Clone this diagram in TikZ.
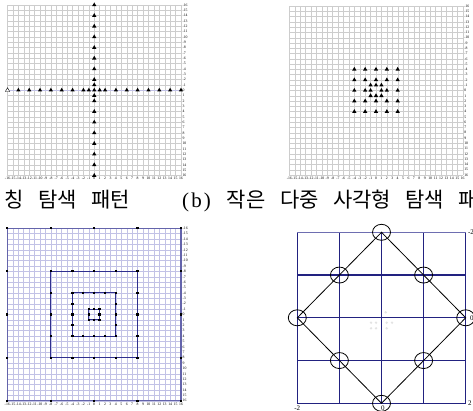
\documentclass[tikz,border=0pt]{standalone}
\usepackage{fontspec}
\setmainfont{Liberation Serif}
\newfontfamily\krfont{Noto Sans CJK KR}
\newfontfamily\capserif{Liberation Serif}[LetterSpace=10]
\usetikzlibrary{shapes.geometric}
\definecolor{gridgray}{HTML}{CDCDCD}
\definecolor{gridlav}{HTML}{C2C2E6}
\definecolor{navy}{HTML}{30308F}
\definecolor{dnavy}{HTML}{222280}
\newcommand\capfont{\fontsize{21}{24}\selectfont\krfont\spaceskip=14.5pt plus 0pt minus 0pt\relax}

\begin{document}
\begin{tikzpicture}[x=1pt,y=-1pt,
  gridline/.style={line width=0.35pt},
  tri/.style={regular polygon,regular polygon sides=3,fill=black,inner sep=0pt,minimum size=5pt},
  otri/.style={tri,fill=white,draw=black,line width=0.4pt},
  pt/.style={rectangle,fill=black,inner sep=0pt,minimum size=2.2pt},
  sqline/.style={draw=navy,line width=0.9pt},
  dline/.style={draw=dnavy,line width=0.8pt},
  ring/.style={ellipse,draw=black,line width=0.8pt,minimum width=18pt,minimum height=16pt,inner sep=0pt},
  tick/.style={font=\fontsize{3.8}{4}\selectfont,inner sep=0.3pt},
  dlabel/.style={font=\fontsize{7}{8}\selectfont,inner sep=0pt},
  captext/.style={font=\capfont,inner sep=0pt,anchor=base west}
]
\useasboundingbox[fill=white] (0,0) rectangle (473,411);

% (a)
\begin{scope}[shift={(94.25,90.25)},x=5.42pt,y=-5.33pt]
  \foreach \i in {-16,...,16} {
    \draw[gridline,gridgray] (\i,-16) -- (\i,16);
    \draw[gridline,gridgray] (-16,\i) -- (16,\i);
    \node[tick,anchor=west] (ay\i) at (16.2,\i) {\i};
    \node[tick,anchor=north] (ax\i) at (\i,16.25) {\i};
  }
  \draw[gridline,gridlav] (-16,0) -- (16,0);
  \node[otri] (ah-16) at (-16,0) {};
  \foreach \i in {-14,-12,-10,-8,-6,-4,-2,-1,0,1,2,4,6,8,10,12,14,16}
    \node[tri] (ah\i) at (\i,0) {};
  \foreach \i in {-16,-14,-12,-10,-8,-6,-4,-2,-1,1,2,4,6,8,10,12,14,16}
    \node[tri] (av\i) at (0,\i) {};
\end{scope}

% (b)
\begin{scope}[shift={(376,90.5)},x=5.42pt,y=-5.28pt]
  \foreach \i in {-16,...,16} {
    \draw[gridline,gridgray] (\i,-16) -- (\i,16);
    \draw[gridline,gridgray] (-16,\i) -- (16,\i);
    \node[tick,anchor=west] (by\i) at (16.2,\i) {\i};
    \node[tick,anchor=north] (bx\i) at (\i,16.25) {\i};
  }
  \foreach \y in {-4,-2,2,4}
    \foreach \x in {-4,-2,0,2,4}
      \node[tri] (b\x_\y) at (\x,\y) {};
  \foreach \x in {-4,-2,-1,1,2,4}
    \node[tri] (b\x_0) at (\x,0) {};
  \foreach \y in {-1,1}
    \foreach \x in {-1,0,1}
      \node[tri] (b\x_\y) at (\x,\y) {};
\end{scope}

% (c)
\begin{scope}[shift={(94.15,314.5)},x=5.43pt,y=-5.39pt]
  \foreach \i in {-16,...,16} {
    \draw[gridline,gridlav] (\i,-16) -- (\i,16);
    \draw[gridline,gridlav] (-16,\i) -- (16,\i);
    \node[tick,anchor=west] (cy\i) at (16.2,\i) {\i};
    \node[tick,anchor=north] (cx\i) at (\i,16.25) {\i};
  }
  \draw[sqline,draw=navy!75,line width=1.4pt] (-16,-16) rectangle (16,16);
  \foreach \r in {8,4}
    \draw[sqline] (-\r,-\r) rectangle (\r,\r);
  \draw[sqline,line width=1.1pt] (-1,-1) rectangle (1,1);
  \foreach \r in {16,8,4} {
    \foreach \k in {0,...,4} {
      \pgfmathsetmacro\t{\r*(\k/2-1)}
      \node[pt] (c\r_\k_n) at (\t,-\r) {};
      \node[pt] (c\r_\k_s) at (\t,\r) {};
    }
    \foreach \k in {1,2,3} {
      \pgfmathsetmacro\t{\r*(\k/2-1)}
      \node[pt] (c\r_\k_w) at (-\r,\t) {};
      \node[pt] (c\r_\k_e) at (\r,\t) {};
    }
  }
  \foreach \t in {-1,0,1} {
    \node[pt] (c1_\t_n) at (\t,-1) {};
    \node[pt] (c1_\t_s) at (\t,1) {};
  }
  \node[pt] (c1_w) at (-1,0) {};
  \node[pt] (c1_e) at (1,0) {};
\end{scope}

% (d)
\foreach \px/\py in {385.7/312.3,371/322.7,376/322.7,386.7/322.7,392/322.7,371/328.3,376/328.3,386.7/328.3}
  \fill[gray!22] (\px,\py) circle (1.3pt);
\begin{scope}[shift={(381.5,317.8)},x=42.1pt,y=-42.75pt]
  \foreach \i in {-2,...,2}
    \draw[dline] (\i,-2) -- (\i,2);
  \draw[dline,draw=navy!70] (-2,-2) -- (2,-2);
  \foreach \i in {-1,0,1}
    \draw[dline,line width=1.3pt] (-2,\i) -- (2,\i);
  \draw[dline] (-2,2) -- (2,2);
  \node[ring] (top) at (0,-2) {};
  \node[ring] (ur) at (1,-1) {};
  \node[ring] (rt) at (2,0) {};
  \node[ring] (lr) at (1,1) {};
  \node[ring] (bot) at (0,2) {};
  \node[ring] (ll) at (-1,1) {};
  \node[ring] (lf) at (-2,0) {};
  \node[ring] (ul) at (-1,-1) {};
  \draw[line width=0.8pt] (top.center) -- (ur.center) -- (rt.center) -- (lr.center)
    -- (bot.center) -- (ll.center) -- (lf.center) -- (ul.center) -- cycle;
  \node[dlabel,anchor=west] (dtr) at (2.05,-2) {-2};
  \node[dlabel,anchor=west] (dr) at (2.1,0) {0};
  \node[dlabel,anchor=west] (dbr) at (2.05,2) {2};
  \node[dlabel,anchor=north] (dbl) at (-2,2.05) {-2};
  \node[dlabel,anchor=north] (dbc) at (0.03,2.05) {0};
\end{scope}

% captions
\node[captext] (capa) at (4,208) {칭 탐색 패턴};
\node[captext] (capb) at (182,208) {{\capserif (b)}\hspace{16pt}작은 다중 사각형 탐색 패};
\end{tikzpicture}
\end{document}
